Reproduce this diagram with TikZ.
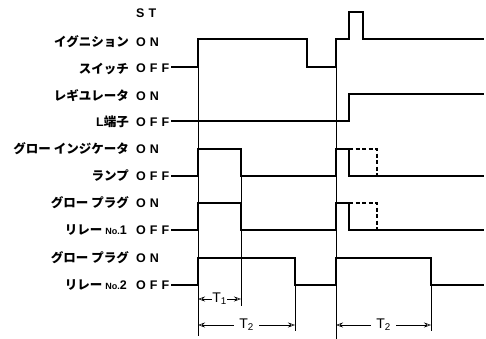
\documentclass[tikz,border=0pt]{standalone}
\usepackage{fontspec}
\setmainfont{Liberation Sans}
\newfontfamily\jp{Noto Sans CJK JP}
\newfontfamily\lat[LetterSpace=32]{Liberation Sans}
\newfontfamily\plainlat{Liberation Sans}
\usetikzlibrary{arrows.meta}
\begin{document}
\begin{tikzpicture}[x=1pt,y=-1pt,
  sig/.style={line width=1.7pt, line join=miter},
  dsig/.style={line width=1.7pt, dash pattern=on 4pt off 2.5pt},
  guide/.style={line width=0.6pt},
  lbl/.style={anchor=east, inner sep=0pt, font=\jp\bfseries\fontsize{12.5}{13}\selectfont},
  stt/.style={anchor=west, inner sep=0pt, font=\lat\bfseries\fontsize{12.5}{13}\selectfont},
  dim/.style={line width=0.6pt, {Stealth[open,length=7pt,width=5pt]}-{Stealth[open,length=7pt,width=5pt]}},
  tlabel/.style={fill=white, inner xsep=5pt, inner ysep=1pt, font=\fontsize{14}{14}\selectfont}
]
\useasboundingbox (0,0) rectangle (486,339);

% labels
\node[stt] (st)   at (136,13)  {ST};
\node[lbl] (ig)   at (129,42)  {イグニション};
\node[stt] (igon) at (136,42)  {ON};
\node[lbl] (sw)   at (129,69)  {スイッチ};
\node[stt] (swoff) at (136,68) {OFF};
\node[lbl] (reg)  at (129,96)  {レギユレータ};
\node[stt] (regon) at (136,96) {ON};
\node[lbl] (lt)   at (129,122) {{\plainlat L}端子};
\node[stt] (ltoff) at (136,122) {OFF};
\node[lbl] (gi)   at (129,149) {グロー インジケータ};
\node[stt] (gion) at (136,149) {ON};
\node[lbl] (lp)   at (129,176) {ランプ};
\node[stt] (lpoff) at (136,176) {OFF};
\node[lbl] (gp1)  at (129,203) {グロー プラグ};
\node[stt] (gp1on) at (136,203) {ON};
\node[lbl] (r1)   at (127,230) {リレー {\plainlat\fontsize{9}{9}\selectfont No.}{\plainlat 1}};
\node[stt] (r1off) at (136,230) {OFF};
\node[lbl] (gp2)  at (129,258) {グロー プラグ};
\node[stt] (gp2on) at (136,258) {ON};
\node[lbl] (r2)   at (127,285) {リレー {\plainlat\fontsize{9}{9}\selectfont No.}{\plainlat 2}};
\node[stt] (r2off) at (136,285) {OFF};

% guide lines
\draw[guide] (198,67) -- (198,336);
\draw[guide] (241,149) -- (241,306);
\draw[guide] (295,285) -- (295,331);
\draw[guide] (336,67) -- (336,339);
\draw[guide] (431,285) -- (431,331);

% ignition switch
\draw[sig] (171,67) -- (198,67) -- (198,39) -- (307,39) -- (307,67) -- (336,67) -- (336,39)
  -- (349,39) -- (349,12) -- (363,12) -- (363,39) -- (484,39);
% regulator L terminal
\draw[sig] (171,121) -- (349,121) -- (349,94) -- (484,94);
% glow indicator lamp
\draw[sig] (171,176) -- (198,176) -- (198,149) -- (241,149) -- (241,176) -- (336,176) -- (336,149)
  -- (349,149) -- (349,176) -- (484,176);
\draw[dsig] (349,149) -- (377,149) -- (377,176);
% glow plug relay 1
\draw[sig] (171,230) -- (198,230) -- (198,203) -- (241,203) -- (241,230) -- (336,230) -- (336,203)
  -- (349,203) -- (349,230) -- (484,230);
\draw[dsig] (349,203) -- (377,203) -- (377,230);
% glow plug relay 2
\draw[sig] (171,285) -- (198,285) -- (198,258) -- (295,258) -- (295,285) -- (336,285) -- (336,258)
  -- (431,258) -- (431,285) -- (484,285);

% time spans
\draw[dim] (198,299) -- (241,299) node[midway, tlabel, inner xsep=0.5pt] (t1) {T\textsubscript{1}};
\draw[dim] (198,325) -- (295,325) node[midway, tlabel] (t2a) {T\textsubscript{2}};
\draw[dim] (336,325) -- (431,325) node[midway, tlabel] (t2b) {T\textsubscript{2}};
\end{tikzpicture}
\end{document}
